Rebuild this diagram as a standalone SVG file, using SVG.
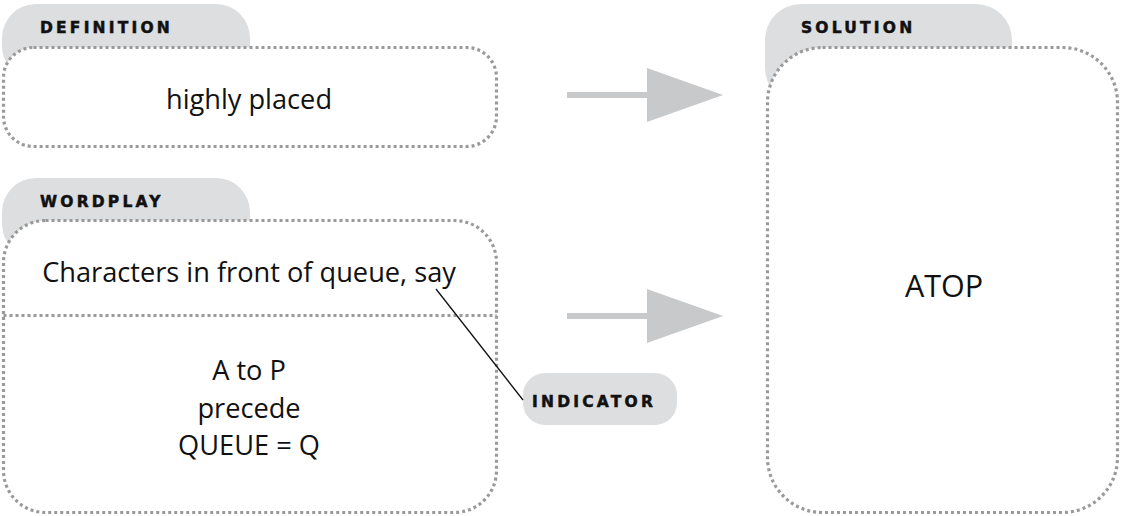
<svg xmlns="http://www.w3.org/2000/svg" width="1124" height="516" viewBox="0 0 1124 516">
<style>
.tab{fill:#dcdee0}
.box{fill:#fff;stroke:#9a9a9a;stroke-width:3.2;stroke-dasharray:3 3}
.lbl{font-family:"DejaVu Sans",sans-serif;font-weight:bold;font-size:15.5px;letter-spacing:3.2px;fill:#111;stroke:#111;stroke-width:0.5}
.txt{font-family:"Open Sans",Lato,sans-serif;font-size:27.2px;fill:#111;text-anchor:middle}
.arr{fill:#c8c9cb}
</style>
<rect width="1124" height="516" fill="#fff"/>
<g id="definition">
<rect class="tab" x="2" y="4" width="248" height="76" rx="34"/>
<rect class="box" x="3.5" y="47.5" width="493" height="99" rx="30"/>
<text class="lbl" x="40" y="33">DEFINITION</text>
<text class="txt" x="249" y="109">highly placed</text>
</g>
<g id="wordplay">
<rect class="tab" x="2" y="178" width="248" height="80" rx="34"/>
<rect class="box" x="3.5" y="220.5" width="493" height="292" rx="42"/>
<line x1="3.5" y1="315.5" x2="496.5" y2="315.5" stroke="#9a9a9a" stroke-width="3.2" stroke-dasharray="3 3"/>
<text class="lbl" x="40" y="207">WORDPLAY</text>
<text class="txt" x="249" y="282">Characters in front of queue, say</text>
<text class="txt" x="249" y="380">A to P</text>
<text class="txt" x="249" y="418">precede</text>
<text class="txt" x="249" y="455">QUEUE = Q</text>
</g>
<g id="solution">
<rect class="tab" x="765" y="4" width="247" height="100" rx="36"/>
<rect class="box" x="767.5" y="47.5" width="350" height="465" rx="55"/>
<text class="lbl" x="801" y="33">SOLUTION</text>
<text class="txt" x="944" y="297" style="font-size:30.5px">ATOP</text>
</g>
<g id="indicator">
<rect class="tab" x="523" y="373" width="154" height="52" rx="22"/>
<text class="lbl" x="532" y="407">INDICATOR</text>
</g>
<g id="connectors">
<rect class="arr" x="567" y="92" width="82" height="6"/>
<polygon class="arr" points="647,68 723,95 647,122"/>
<rect class="arr" x="567" y="313" width="82" height="6"/>
<polygon class="arr" points="647,289 723,316 647,343"/>
<line x1="436" y1="289" x2="523" y2="400" stroke="#111" stroke-width="1.3"/>
</g>
</svg>
